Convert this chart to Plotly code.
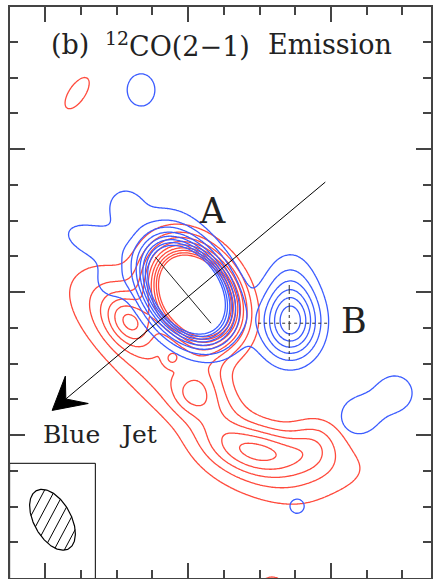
import numpy as np
import plotly.graph_objects as go

# ---------------- data (offsets in tick units) ----------------
# Gaussian components of the blue-shifted emission: x0, y0, amplitude, sigma_a, sigma_b, angle(deg)
blue_x0 = [-0.03, -2.70, -1.79, -0.64, -2.18, 2.86, 2.86, 4.78, 5.80, -1.32, 3.05]
blue_y0 = [0.03, 1.45, 2.44, 1.46, 0.28, -0.87, 0.28, -3.47, -2.82, 5.66, -5.99]
blue_amp = [26.0, 1.5, 1.4, 1.2, 1.2, 6.4, 1.6, 1.6, 1.6, 1.5, 1.5]
blue_sa = [0.86, 0.75, 0.40, 0.80, 0.45, 0.55, 0.50, 0.50, 0.48, 0.43, 0.22]
blue_sb = [0.60, 0.40, 0.40, 0.80, 0.45, 0.68, 0.70, 0.50, 0.48, 0.50, 0.22]
blue_pa = [-55, -20, 0, 0, 0, 0, 0, 0, 0, 0, 0]

# Gaussian components of the red-shifted emission
red_x0 = [0.20, -1.62, -1.90, -0.22, 0.48, -0.45, 0.11, 2.07, 3.56, 3.14, -3.11, 2.35]
red_y0 = [-0.08, -0.84, -0.30, -2.75, -2.32, -1.85, -2.83, -4.43, -4.15, -4.99, 5.57, -8.35]
red_amp = [25.0, 3.5, 1.8, 2.6, 1.5, 1.6, 1.3, 3.3, 1.6, 1.4, 1.5, 1.5]
red_sa = [0.85, 0.55, 1.00, 2.40, 1.00, 0.16, 0.35, 1.00, 0.50, 1.80, 0.56, 0.42]
red_sb = [0.62, 0.40, 0.65, 0.62, 0.45, 0.16, 0.35, 0.45, 0.50, 0.70, 0.25, 0.42]
red_pa = [-55, -50, -45, -42, -75, 0, 0, -8, 0, 0, 56, 0]

contour_levels_blue = dict(start=1, end=8, size=1)
contour_levels_red = dict(start=1, end=9, size=1)

# jet axis (tail -> tip), cross markers
jet_x = [3.84, -3.81]
jet_y = [3.08, -3.31]
head_len, head_halfwidth, head_notch = 0.90, 0.50, 0.50
crossA_x = [-0.92, 0.64]
crossA_y = [0.98, -0.87]
crossB_v_x = [2.83, 2.83]
crossB_v_y = [0.20, -1.90]
crossB_h_x = [1.96, 3.89]
crossB_h_y = [-0.87, -0.87]

# synthesized beam
beam_x0, beam_y0 = -3.80, -6.37
beam_major, beam_minor, beam_pa = 0.93, 0.52, -61.0
beam_box_x = [-5.0, -2.6]
beam_box_y = [-8.1, -4.79]

XR = [-4.99, 6.80]
YR = [-8.0, 7.98]

# ---------------- build fields ----------------
gx = np.linspace(XR[0] - 0.5, XR[1] + 0.5, 340)
gy = np.linspace(YR[0] - 0.8, YR[1] + 0.5, 460)
X, Y = np.meshgrid(gx, gy)


def field(x0s, y0s, amps, sas, sbs, pas):
    z = np.zeros_like(X)
    for x0, y0, a, sa, sb, pa in zip(x0s, y0s, amps, sas, sbs, pas):
        t = np.deg2rad(pa)
        dx, dy = X - x0, Y - y0
        u = dx * np.cos(t) + dy * np.sin(t)
        v = -dx * np.sin(t) + dy * np.cos(t)
        z += a * np.exp(-0.5 * (u ** 2 / sa ** 2 + v ** 2 / sb ** 2))
    return z


Zb = field(blue_x0, blue_y0, blue_amp, blue_sa, blue_sb, blue_pa)
Zr = field(red_x0, red_y0, red_amp, red_sa, red_sb, red_pa)

RED = "#ff4a3c"
BLUE = "#3b5cff"

fig = go.Figure()
for Z, col, lev in [(Zr, RED, contour_levels_red), (Zb, BLUE, contour_levels_blue)]:
    fig.add_trace(go.Contour(
        x=gx, y=gy, z=Z,
        contours=dict(coloring="lines", showlabels=False, **lev),
        colorscale=[[0, col], [1, col]], showscale=False,
        line=dict(width=1.3), hoverinfo="skip"))

# crosses
fig.add_trace(go.Scatter(x=crossA_x, y=crossA_y, mode="lines",
                         line=dict(color="#222", width=1), hoverinfo="skip"))
fig.add_trace(go.Scatter(x=crossB_v_x, y=crossB_v_y, mode="lines",
                         line=dict(color="#333", width=1, dash="dashdot"), hoverinfo="skip"))
fig.add_trace(go.Scatter(x=crossB_h_x, y=crossB_h_y, mode="lines",
                         line=dict(color="#333", width=1, dash="dot"), hoverinfo="skip"))

# jet arrow (line + filled barbed head)
tip = np.array([jet_x[1], jet_y[1]])
tail = np.array([jet_x[0], jet_y[0]])
dvec = (tip - tail) / np.linalg.norm(tip - tail)
nvec = np.array([-dvec[1], dvec[0]])
notch = tip - head_notch * dvec
b1 = tip - head_len * dvec + head_halfwidth * nvec
b2 = tip - head_len * dvec - head_halfwidth * nvec
fig.add_trace(go.Scatter(x=[tail[0], notch[0]], y=[tail[1], notch[1]], mode="lines",
                         line=dict(color="black", width=1), hoverinfo="skip"))
fig.add_trace(go.Scatter(x=[tip[0], b1[0], notch[0], b2[0], tip[0]],
                         y=[tip[1], b1[1], notch[1], b2[1], tip[1]],
                         mode="lines", fill="toself", fillcolor="black",
                         line=dict(color="black", width=1), hoverinfo="skip"))

# beam ellipse + hatching
th = np.linspace(0, 2 * np.pi, 200)
pa = np.deg2rad(beam_pa)
ex = beam_x0 + beam_major * np.cos(th) * np.cos(pa) - beam_minor * np.sin(th) * np.sin(pa)
ey = beam_y0 + beam_major * np.cos(th) * np.sin(pa) + beam_minor * np.sin(th) * np.cos(pa)
fig.add_trace(go.Scatter(x=ex, y=ey, mode="lines", line=dict(color="black", width=1.2),
                         hoverinfo="skip"))
hat = np.deg2rad(62.0)
d = np.array([np.cos(hat), np.sin(hat)])
n = np.array([-np.sin(hat), np.cos(hat)])
ca, sa_ = np.cos(pa), np.sin(pa)


def toE(p):
    return np.array([p[0] * ca + p[1] * sa_, -p[0] * sa_ + p[1] * ca])


hx, hy = [], []
for off in np.arange(-1.2, 1.21, 0.255):
    c = np.array([beam_x0, beam_y0]) + off * n
    c0 = toE(c - np.array([beam_x0, beam_y0]))
    dd = toE(d)
    A = dd[0] ** 2 / beam_major ** 2 + dd[1] ** 2 / beam_minor ** 2
    B = 2 * (c0[0] * dd[0] / beam_major ** 2 + c0[1] * dd[1] / beam_minor ** 2)
    C = c0[0] ** 2 / beam_major ** 2 + c0[1] ** 2 / beam_minor ** 2 - 1
    disc = B * B - 4 * A * C
    if disc <= 0:
        continue
    s1 = (-B - np.sqrt(disc)) / (2 * A)
    s2 = (-B + np.sqrt(disc)) / (2 * A)
    p1 = c + s1 * d
    p2 = c + s2 * d
    hx += [p1[0], p2[0], None]
    hy += [p1[1], p2[1], None]
fig.add_trace(go.Scatter(x=hx, y=hy, mode="lines", line=dict(color="black", width=1),
                         hoverinfo="skip"))

fig.add_shape(type="rect", x0=beam_box_x[0], x1=beam_box_x[1], y0=beam_box_y[0], y1=beam_box_y[1],
              line=dict(color="black", width=1))

SERIF = "DejaVu Serif"
texts = [
    ("(b)", -3.31, 6.92, 27),
    ("<sup>12</sup>CO(2−1)", -0.31, 6.92, 27),
    ("Emission", 3.98, 6.92, 27),
    ("A", 0.69, 2.27, 35),
    ("B", 4.65, -0.80, 35),
    ("Blue", -3.26, -3.97, 25),
    ("Jet", -1.41, -3.97, 25),
]
for t, x, y, s in texts:
    fig.add_annotation(x=x, y=y, xref="x", yref="y", text=t, showarrow=False,
                       font=dict(family=SERIF, size=s, color="#222"))

ax_common = dict(showline=True, linecolor="#444", linewidth=2, mirror="ticks",
                 ticks="inside", ticklen=15, tickwidth=1.5, tickcolor="#444",
                 dtick=4, tick0=0, showticklabels=False, showgrid=False, zeroline=False,
                 minor=dict(ticks="inside", ticklen=8, dtick=1, tick0=0, tickwidth=1.5,
                            tickcolor="#444", showgrid=False))
fig.update_xaxes(range=XR, **ax_common)
fig.update_yaxes(range=YR, **ax_common)
fig.update_layout(width=436, height=579, margin=dict(l=10, r=5, t=7, b=1),
                  plot_bgcolor="white", paper_bgcolor="white", showlegend=False)
fig.write_html("out.html")
